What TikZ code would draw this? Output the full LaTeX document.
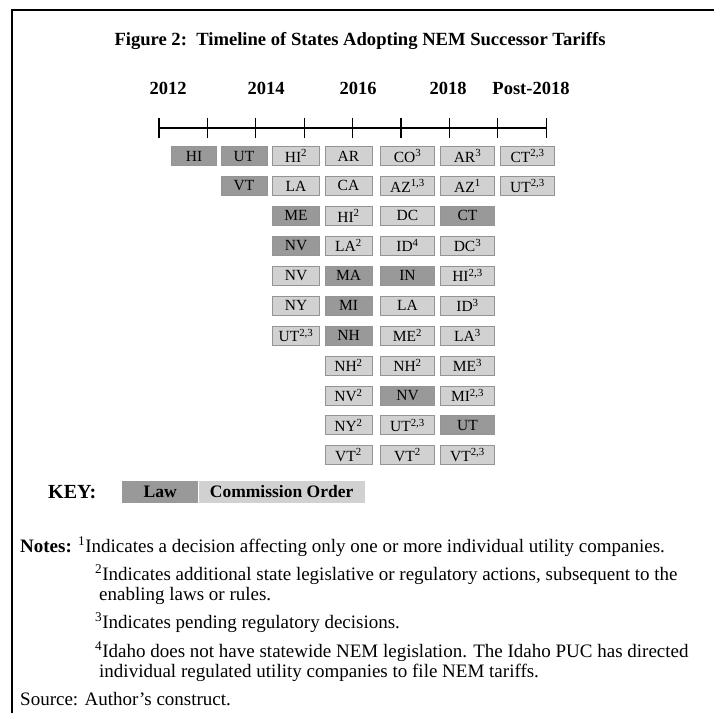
\documentclass[tikz,border=0pt]{standalone}
\usepackage{fontspec}
\setmainfont{Liberation Serif}
\usetikzlibrary{positioning}
\newcommand{\supnote}[1]{\textsuperscript{#1}}
\begin{document}
\begin{tikzpicture}[x=1pt, y=-1pt,
  cell/.style={inner sep=0pt, minimum height=19pt, draw=black!42, line width=0.4pt,
    font=\fontsize{15.5}{16}\selectfont},
  law/.style={fill=black!40},
  ord/.style={fill=black!18},
  yr/.style={font=\fontsize{18.5}{20}\selectfont\bfseries},
  note/.style={anchor=base west, inner sep=0pt, font=\fontsize{19}{20}\selectfont},
  tl/.style={line width=1.3pt}]

% Рамка и поле рисунка: единица -- один пиксель образца, ось y вниз.
\useasboundingbox (0,0) rectangle (714,713);
\draw[line width=2pt] (12,713) -- (12,9.5) -- (714,9.5);

\node[font=\fontsize{18.6}{20}\selectfont\bfseries] (title) at (360,41)
  {Figure 2:\ \ Timeline of States Adopting NEM Successor Tariffs};

% ---------- шкала времени
\foreach \k in {0,...,8} { \coordinate (t\k) at ({159+48.4*\k},128); }
\draw[tl] (t0) -- (t8);
\foreach \k in {0,...,8} { \draw[tl] ([yshift=10pt]t\k) -- ([yshift=-10pt]t\k); }
\node[yr] (y12) at (168,88) {2012};
\node[yr] (y14) at (266,88) {2014};
\node[yr] (y16) at (358,88) {2016};
\node[yr] (y18) at (448,88) {2018};
\node[yr] (ypost) at (531,88) {Post-2018};

% ---------- столбцы штатов: номер, центр по x, ширина, список метка/вид
\newcommand{\statecol}[4]{%
  \foreach \lbl/\kind [count=\r from 0] in {#4}
    { \node[cell, \kind, minimum width=#3pt] (c#1r\r) at (#2,{156+29.9*\r}) {\lbl}; }%
}
\statecol{1}{194}{45}{HI/law}
\statecol{2}{244}{46}{UT/law, VT/law}
\statecol{3}{296}{47}{HI\supnote{2}/ord, LA/ord, ME/law, NV/law, NV/ord, NY/ord,
  UT\supnote{2,3}/ord}
\statecol{4}{348.5}{47}{AR/ord, CA/ord, HI\supnote{2}/ord, LA\supnote{2}/ord, MA/law,
  MI/law, NH/law, NH\supnote{2}/ord, NV\supnote{2}/ord, NY\supnote{2}/ord,
  VT\supnote{2}/ord}
\statecol{5}{407.5}{54}{CO\supnote{3}/ord, AZ\supnote{1,3}/ord, DC/ord,
  ID\supnote{4}/ord, IN/law, LA/ord, ME\supnote{2}/ord, NH\supnote{2}/ord, NV/law,
  UT\supnote{2,3}/ord, VT\supnote{2}/ord}
\statecol{6}{467.5}{54}{AR\supnote{3}/ord, AZ\supnote{1}/ord, CT/law, DC\supnote{3}/ord,
  HI\supnote{2,3}/ord, ID\supnote{3}/ord, LA\supnote{3}/ord, ME\supnote{3}/ord,
  MI\supnote{2,3}/ord, UT/law, VT\supnote{2,3}/ord}
\statecol{7}{527.5}{54}{CT\supnote{2,3}/ord, UT\supnote{2,3}/ord}

% ---------- ключ
\node[yr, font=\fontsize{20}{20}\selectfont\bfseries, anchor=west, inner sep=0pt]
  (key) at (48,492) {KEY:};
\node[cell, law, draw=none, minimum width=76pt, minimum height=22pt, anchor=west,
  font=\fontsize{17.5}{18}\selectfont\bfseries] (keylaw) at (122,492) {Law};
\node[cell, ord, draw=none, minimum width=166pt, minimum height=22pt,
  font=\fontsize{17.5}{18}\selectfont\bfseries, right=0pt of keylaw] (keyord)
  {Commission Order};

% ---------- примечания
\node[note] (n1) at (20,552) {\textbf{Notes:} \supnote{1}Indicates a decision affecting
  only one or more individual utility companies.};
\node[note] (n2) at (95,580) {\supnote{2}Indicates additional state legislative or
  regulatory actions, subsequent to the};
\node[note] (n2b) at (99,600) {enabling laws or rules.};
\node[note] (n3) at (95,628) {\supnote{3}Indicates pending regulatory decisions.};
\node[note] (n4) at (95,657) {\supnote{4}Idaho does not have statewide NEM legislation.
  The Idaho PUC has directed};
\node[note] (n4b) at (99,677) {individual regulated utility companies to file NEM
  tariffs.};
\node[note] (src) at (20,705) {Source: Author’s construct.};
\end{tikzpicture}
\end{document}
